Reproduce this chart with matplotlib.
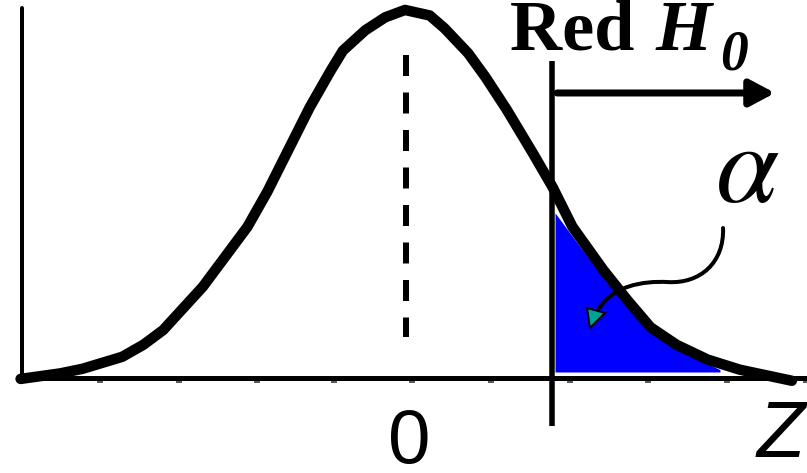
import matplotlib
matplotlib.use("Agg")
import matplotlib.pyplot as plt
from matplotlib.path import Path
from matplotlib.patches import PathPatch, Polygon

# ---- data (z units, density units) ----
curve_z = [-3.10, -2.78, -2.60, -2.28, -2.11, -1.95, -1.63, -1.27, -1.11, -0.77,
           -0.60, -0.50, -0.32, -0.16, 0.00, 0.20, 0.32, 0.51, 0.65, 0.82,
           1.03, 1.19, 1.35, 1.60, 1.79, 1.98, 2.19, 2.44, 2.70, 3.12]
curve_y = [-0.001, 0.005, 0.010, 0.023, 0.036, 0.052, 0.099, 0.164, 0.202, 0.293,
           0.333, 0.355, 0.377, 0.391, 0.399, 0.393, 0.379, 0.352, 0.326, 0.291,
           0.244, 0.207, 0.164, 0.117, 0.085, 0.055, 0.036, 0.020, 0.009, -0.003]
z_crit = 1.185
tail_z = [1.21, 1.63, 1.95, 2.27, 2.54]
tail_top = [0.179, 0.103, 0.057, 0.027, 0.009]
tail_base = 0.0065
tick_z = [-2.46, -1.82, -1.19, -0.57, 0.06, 0.69, 1.33, 1.96, 2.60, 3.23]
mean_label = r"$\mathrm{0}$"
axis_label = "Z"
region_label = "Red "
hyp_label = "H"
hyp_sub = "0"
alpha_label = r"$\alpha$"

W, H = 807, 473
plt.rcParams["lines.scale_dashes"] = False
plt.rcParams["mathtext.fontset"] = "custom"
plt.rcParams["mathtext.rm"] = "Liberation Sans"
plt.rcParams["mathtext.it"] = "Liberation Sans:italic"
fig = plt.figure(figsize=(W / 100, H / 100), dpi=100)
ax = fig.add_axes([0, 0, 1, 1])
ax.set_xlim(-3.266, 3.242)
ax.set_ylim(-0.103, 0.4098)
ax.axis("off")

PX = 72 / 100  # points per pixel

# shaded tail
ax.fill_between(tail_z, [tail_base] * len(tail_z), tail_top, color="#0000FF",
                lw=0, zorder=1)

# axes
ax.plot([-3.085, -3.085], [0.0, 0.401], color="black", lw=4 * PX,
        solid_capstyle="round", zorder=2)
ax.plot([-3.10, 3.26], [0.0005, 0.0005], color="black", lw=5 * PX,
        solid_capstyle="butt", zorder=2)
ax.plot(tick_z, [-0.0045] * len(tick_z), ls="none", marker="_",
        markersize=6 * PX, mew=1.6 * PX, color="#333333", zorder=2)

# mean dashed line
ax.plot([0.01, 0.01], [0.350, 0.044], color="black", lw=6 * PX,
        linestyle=(0, (21 * PX, 16.5 * PX)), dash_capstyle="butt", zorder=2)

# critical value line
ax.plot([z_crit, z_crit], [0.3436, -0.052], color="black", lw=5.5 * PX,
        solid_capstyle="butt", zorder=4)

# density curve
ax.plot(curve_z, curve_y, color="black", lw=10.5 * PX, solid_capstyle="round",
        solid_joinstyle="round", zorder=3)

# rejection-region arrow
ax.annotate("", xy=(2.984, 0.309), xytext=(1.226, 0.309),
            arrowprops=dict(arrowstyle="-|>,head_length=15,head_width=8",
                            mutation_scale=1, lw=7 * PX, color="black",
                            shrinkA=0, shrinkB=0), zorder=5)

# curved arrow from alpha to the tail
verts = [(2.565, 0.1626), (2.575, 0.125), (2.38, 0.102), (2.12, 0.104),
         (1.92, 0.1055), (1.66, 0.100), (1.55, 0.072)]
codes = [Path.MOVETO, Path.CURVE4, Path.CURVE4, Path.CURVE4,
         Path.CURVE4, Path.CURVE4, Path.CURVE4]
ax.add_patch(PathPatch(Path(verts, codes), fill=False, lw=4 * PX,
                       edgecolor="black", zorder=6, capstyle="round"))
ax.add_patch(Polygon([(1.468, 0.0759), (1.613, 0.0705), (1.492, 0.0542)],
                     closed=True, facecolor="#00A294", edgecolor="black",
                     lw=2 * PX, zorder=7))

def ftext(x, y, s, **kw):
    fig.text(x / W, 1 - y / H, s, **kw)

serif = ["Liberation Serif", "DejaVu Serif"]
sans = ["Liberation Sans", "DejaVu Sans"]
ftext(510, 50, region_label, family=serif, weight="bold", fontsize=52,
      ha="left", va="baseline")
ftext(656, 50, hyp_label, family=serif, weight="bold", style="italic",
      fontsize=52, ha="left", va="baseline")
ftext(720, 70, hyp_sub, family=serif, weight="bold", style="italic",
      fontsize=40, ha="left", va="baseline")
ftext(747, 202, alpha_label, fontsize=82, math_fontfamily="stix",
      ha="center", va="baseline")
ftext(408, 463, mean_label, fontsize=55, ha="center", va="baseline")
ftext(781, 457, axis_label, family=sans, style="italic", fontsize=57,
      ha="center", va="baseline")

fig.savefig("out.png", dpi=100)
